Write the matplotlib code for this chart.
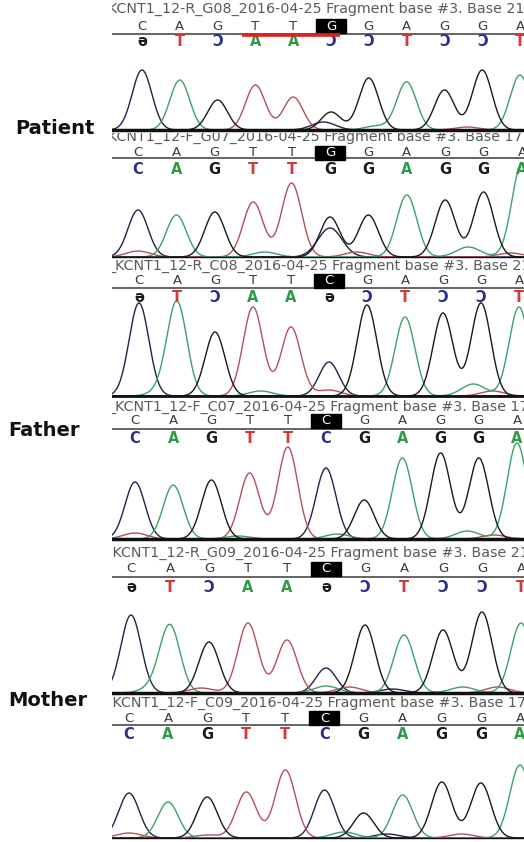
import matplotlib.pyplot as plt
import numpy as np
from matplotlib.patches import Rectangle

# ---- data ----
ref_patient = ["C", "A", "G", "T", "T", "G", "G", "A", "G", "G", "A"]
ref_parent = ["C", "A", "G", "T", "T", "C", "G", "A", "G", "G", "A"]
highlight = 5  # boxed base

headers = [
    "KCNT1_12-R_G08_2016-04-25 Fragment base #3. Base 21",
    "KCNT1_12-F_G07_2016-04-25 Fragment base #3. Base 17",
    "_KCNT1_12-R_C08_2016-04-25 Fragment base #3. Base 21",
    "_KCNT1_12-F_C07_2016-04-25 Fragment base #3. Base 17",
    ".KCNT1_12-R_G09_2016-04-25 Fragment base #3. Base 21",
    ".KCNT1_12-F_C09_2016-04-25 Fragment base #3. Base 17",
]
reverse = [True, False, True, False, True, False]

# main peak heights (px) at each base, one list per panel
peaks_p1 = [60, 50, 30, 45, 33, 18, 52, 48, 40, 60, 55]
peaks_p2 = [47, 42, 45, 55, 74, 40, 42, 62, 57, 65, 94]
peaks_p3 = [93, 93, 64, 89, 69, 34, 91, 79, 83, 93, 89]
peaks_p4 = [57, 54, 59, 66, 92, 71, 39, 81, 86, 81, 96]
peaks_p5 = [78, 66, 51, 70, 53, 25, 68, 58, 63, 81, 70]
peaks_p6 = [45, 36, 41, 46, 68, 48, 25, 43, 56, 55, 73]

# small secondary peaks: (position, base, height)
minor_p1 = [(4.8, "C", 8), (6.2, "A", 4), (8.6, "T", 3)]
minor_p2 = [(0.0, "T", 6), (3.3, "A", 5), (5.0, "C", 29), (5.7, "T", 5), (8.6, "A", 10), (9.7, "T", 4)]
minor_p3 = [(0.6, "A", 5), (3.2, "A", 5), (5.0, "T", 6), (8.8, "A", 12), (9.3, "T", 5)]
minor_p4 = [(0.0, "T", 6), (2.7, "A", 3), (5.3, "A", 5), (8.7, "A", 8), (9.4, "T", 4)]
minor_p5 = [(0.6, "A", 6), (1.8, "T", 5), (5.0, "A", 7), (5.6, "T", 6), (6.7, "C", 4), (8.5, "A", 6), (9.4, "T", 6)]
minor_p6 = [(0.0, "T", 5), (2.0, "T", 3), (5.5, "A", 6), (6.6, "C", 4), (8.5, "T", 4)]

labels = ["Patient", "Father", "Mother"]

# ---- layout (pixels) ----
W, H = 524, 842
# top, bottom, x0, step, header_y, ref_y, line_y, call_y, base_y, base_lw
layout = [
    (0, 133, 142, 37.8, 9, 26, 34, 41, 130, 2.5),
    (133, 260, 138, 38.4, 137, 153, 158, 169, 257, 1.0),
    (260, 400, 139, 38.0, 266, 281, 288, 298, 396, 2.0),
    (400, 542, 135, 38.2, 407, 421, 429, 439, 539, 2.5),
    (542, 696, 131, 39.0, 553, 569, 577, 587, 693, 2.5),
    (696, 842, 129, 39.1, 703, 718, 725, 734, 838, 1.0),
]
label_pos = [(55, 129), (44, 430), (48, 700)]

trace_col = {"A": "#3f9f6c", "C": "#22224a", "G": "#1a1a1a", "T": "#b4505a"}
call_col = {"A": "#2f9a45", "C": "#2d2d8f", "G": "#1a1a1a", "T": "#d23a3a"}
mirror = {"A": "A", "C": "Ɔ", "G": "ə", "T": "T"}
comp = {"A": "T", "C": "G", "G": "C", "T": "A"}

fig = plt.figure(figsize=(W / 100, H / 100), dpi=100)
bg = fig.add_axes([0, 0, 1, 1])
bg.set_xlim(0, W)
bg.set_ylim(H, 0)
bg.axis("off")

for (lab, (lx, ly)) in zip(labels, label_pos):
    bg.text(lx, ly, lab, ha="center", va="center", fontsize=14,
            fontweight="bold", color="#111111")

all_peaks = [peaks_p1, peaks_p2, peaks_p3, peaks_p4, peaks_p5, peaks_p6]
all_minor = [minor_p1, minor_p2, minor_p3, minor_p4, minor_p5, minor_p6]
sigma = 0.26
t = np.linspace(-1.2, 10.6, 900)

for k, (top, bot, x0, step, hy, ry, ly, cy, by, blw) in enumerate(layout):
    ref = ref_patient if k < 2 else ref_parent
    ax = fig.add_axes([112 / W, 1 - bot / H, (W - 112) / W, (bot - top) / H])
    ax.set_xlim(112, W)
    ax.set_ylim(bot, top)
    ax.axis("off")

    ax.text(108, hy, headers[k], ha="left", va="center", fontsize=10.3,
            color="#5a5a5a", clip_on=True)

    # reference row + rule
    for i, b in enumerate(ref):
        x = x0 + step * i
        if i == highlight:
            ax.add_patch(Rectangle((x - 15, ry - 7), 30, 14, color="black", zorder=3))
            ax.text(x, ry, b, ha="center", va="center", fontsize=9.5,
                    color="white", zorder=4, clip_on=True)
        else:
            ax.text(x, ry, b, ha="center", va="center", fontsize=9.5,
                    color="#3a3a3a", clip_on=True)
    ax.plot([112, W], [ly, ly], color="#3a3a3a", lw=1.1)

    # called bases
    for i, b in enumerate(ref):
        x = x0 + step * i
        if reverse[k]:
            c = comp[b]
            ax.text(x, cy, mirror[c], ha="center", va="center", fontsize=10.5,
                    fontweight="bold", color=call_col[c], clip_on=True)
        else:
            ax.text(x, cy, b, ha="center", va="center", fontsize=10.5,
                    fontweight="bold", color=call_col[b], clip_on=True)

    # traces: one curve per dye
    sig = {b: np.zeros_like(t) for b in "ACGT"}
    for i, (b, h) in enumerate(zip(ref, all_peaks[k])):
        sig[b] += h * np.exp(-0.5 * ((t - i) / sigma) ** 2)
    for (p, b, h) in all_minor[k]:
        sig[b] += h * np.exp(-0.5 * ((t - p) / (sigma * 1.2)) ** 2)
    xs = x0 + step * t
    for b in "CTAG":
        ax.plot(xs, by - sig[b], color=trace_col[b], lw=1.0, zorder=2)

    ax.plot([112, W], [by, by], color="#111111", lw=blw, zorder=2.5)

    if k == 0:
        ax.plot([x0 + step * 2.65, x0 + step * 5.25], [ly + 1, ly + 1],
                color="#e02020", lw=2.6, solid_capstyle="butt", zorder=5)

fig.savefig("out.png", dpi=100, facecolor="white")
